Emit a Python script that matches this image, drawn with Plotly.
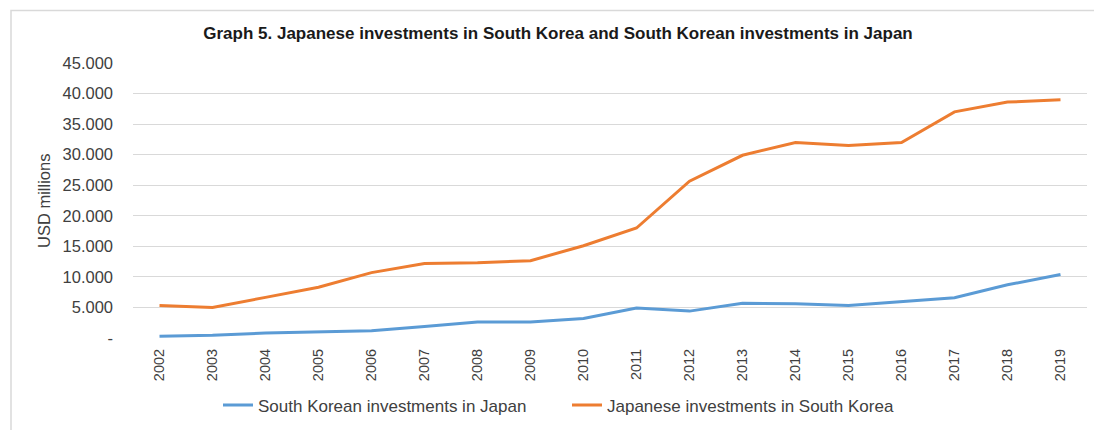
import plotly.graph_objects as go

years = [str(y) for y in range(2002, 2020)]
korean_in_japan = [300, 450, 800, 950, 1200, 1900, 2600, 2600, 3200, 4900,
                   4400, 5700, 5600, 5300, 5900, 6600, 8700, 10400]
japanese_in_korea = [5300, 5000, 6650, 8300, 10700, 12200, 12300, 12650, 15100, 18000,
                     25650, 29900, 32000, 31500, 32000, 37000, 38600, 39000]
y_tickvals = [0, 5000, 10000, 15000, 20000, 25000, 30000, 35000, 40000, 45000]
y_ticktext = ["-", "5.000", "10.000", "15.000", "20.000", "25.000",
              "30.000", "35.000", "40.000", "45.000"]

title = "Graph 5. Japanese investments in South Korea and South Korean investments in Japan"
font_family = "Liberation Sans, Arial, sans-serif"
text_color = "#404040"

fig = go.Figure()
fig.add_trace(go.Scatter(x=years, y=korean_in_japan, mode="lines",
                         name="South Korean investments in Japan",
                         line=dict(color="#5B9BD5", width=3)))
fig.add_trace(go.Scatter(x=years, y=japanese_in_korea, mode="lines",
                         name="Japanese investments in South Korea",
                         line=dict(color="#ED7D31", width=3)))

L, R, T, B = 133, 7, 63, 90
W, H = 1094, 430
pw, ph = W - L - R, H - T - B

fig.update_layout(
    width=W, height=H,
    margin=dict(l=L, r=R, t=T, b=B),
    paper_bgcolor="white", plot_bgcolor="white",
    font=dict(family=font_family, color=text_color),
    title=dict(text="<b>" + title + "</b>", x=558 / W, xanchor="center",
               y=1 - 33 / H, yanchor="middle",
               font=dict(size=17, color="#1a1a1a", family=font_family)),
    showlegend=True,
    legend=dict(orientation="h", x=(218 - L) / pw, xanchor="left",
                y=(340 - 408) / ph, yanchor="middle",
                entrywidth=304, entrywidthmode="pixels",
                font=dict(size=17, color=text_color), bgcolor="rgba(0,0,0,0)"),
    xaxis=dict(type="category", range=[-0.5, len(years) - 0.5], tickangle=-90,
               showgrid=False, zeroline=False, showline=False, ticks="",
               ticklabelstandoff=7, tickfont=dict(size=14.5, color=text_color)),
    yaxis=dict(range=[0, 45000], tickvals=y_tickvals, ticktext=y_ticktext,
               showgrid=True, gridcolor="#d9d9d9", gridwidth=1, zeroline=False,
               showline=False, ticks="", ticklabelstandoff=19,
               tickfont=dict(size=16.5, color=text_color)),
    annotations=[dict(text="USD millions", textangle=-90, xref="paper", yref="paper",
                      x=(44 - L) / pw, y=(340 - 202) / ph, xanchor="center", yanchor="middle",
                      showarrow=False, font=dict(size=16.5, color=text_color))],
    shapes=[dict(type="rect", xref="paper", yref="paper",
                 x0=(11 - L) / pw, x1=1.2, y0=-0.6, y1=(340 - 10) / ph,
                 line=dict(color="#d9d9d9", width=1.5), layer="below")],
)

fig.write_html("out.html")
